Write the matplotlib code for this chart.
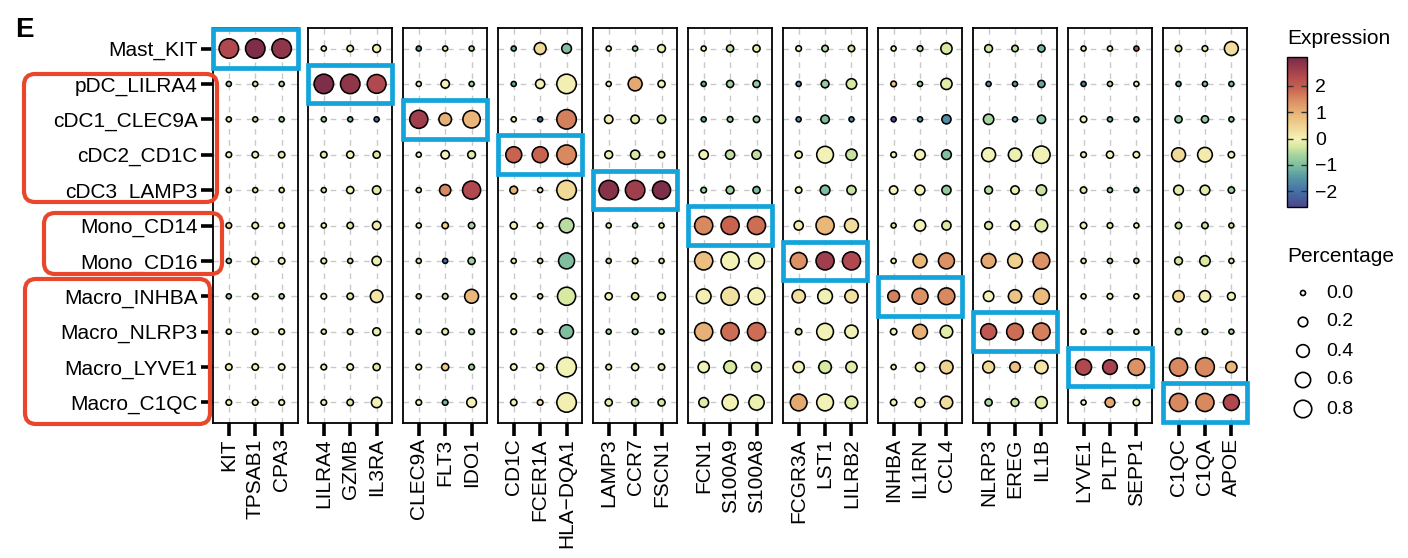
import numpy as np
import matplotlib
matplotlib.use("Agg")
import matplotlib.pyplot as plt
from matplotlib.colors import LinearSegmentedColormap, Normalize
from matplotlib.patches import Rectangle, FancyBboxPatch
import matplotlib.cm as cm

plt.rcParams['font.family'] = ['Liberation Sans', 'DejaVu Sans']

cell_types = ["Mast_KIT", "pDC_LILRA4", "cDC1_CLEC9A", "cDC2_CD1C", "cDC3_LAMP3",
              "Mono_CD14", "Mono_CD16", "Macro_INHBA", "Macro_NLRP3", "Macro_LYVE1", "Macro_C1QC"]

gene_groups = [
    ["KIT", "TPSAB1", "CPA3"],
    ["LILRA4", "GZMB", "IL3RA"],
    ["CLEC9A", "FLT3", "IDO1"],
    ["CD1C", "FCER1A", "HLA\u2212DQA1"],
    ["LAMP3", "CCR7", "FSCN1"],
    ["FCN1", "S100A9", "S100A8"],
    ["FCGR3A", "LST1", "LILRB2"],
    ["INHBA", "IL1RN", "CCL4"],
    ["NLRP3", "EREG", "IL1B"],
    ["LYVE1", "PLTP", "SEPP1"],
    ["C1QC", "C1QA", "APOE"],
]

# expression per row (cell type), 33 genes in panel order
expression = [
    [2.4, 3.0, 2.8, -0.1, -0.1, 0.0, -1.4, -0.2, -0.5, -1.3, 0.4, -1.0, -0.1, -0.7, -0.1, 0.0, -0.45, -0.2,
     0.0, -0.5, -0.35, -0.1, -0.45, -0.3, -0.35, -0.45, -1.1, -0.3, 0.0, 2.2, -0.3, -0.2, 0.3],
    [-0.6, -0.3, -0.5, 3.0, 2.8, 2.4, -0.1, 0.0, -0.6, -1.3, 0.0, 0.05, -0.1, 1.1, 0.0, -1.3, -0.7, -0.8,
     -1.6, -0.8, -0.3, 0.7, -0.7, -0.2, -1.6, -1.4, -1.3, -1.8, -0.5, -0.1, -1.4, -1.0, -1.0],
    [-0.2, -0.5, -0.6, -0.7, -1.0, -2.0, 2.6, 1.0, 0.9, -0.1, -2.0, 1.6, 0.05, -0.2, -0.35, -1.3, -0.7, -0.7,
     -1.6, -1.0, -1.6, -2.5, -1.4, -1.6, -0.6, -1.4, -1.0, 0.0, -1.0, -1.0, -0.8, -0.8, -0.7],
    [0.0, -0.1, -0.2, -0.2, 0.0, -0.3, 0.0, 0.0, -0.2, 1.9, 1.9, 1.5, -0.1, -0.3, -0.3, 0.0, -0.45, -0.45,
     -0.1, 0.0, -0.4, 0.0, 0.0, -1.0, 0.0, -0.1, 0.0, -0.2, 0.0, 0.0, 0.4, 0.1, 0.0],
    [-0.1, -0.2, -0.2, -0.3, 0.0, -0.2, 0.0, 1.5, 2.4, 1.0, -0.1, 0.4, 2.9, 2.6, 3.0, -0.7, -0.7, -1.0,
     0.0, -1.0, -0.4, 0.0, 0.0, -0.8, -0.5, -0.1, -0.4, -0.3, -0.7, -1.0, -0.2, -0.2, -0.7],
    [0.3, -0.1, -0.1, 0.0, -0.3, 0.1, 0.0, 0.5, -0.6, 0.0, 0.0, -0.5, -0.3, -0.7, -0.3, 1.5, 1.9, 1.8,
     0.1, 0.9, 0.3, -0.35, 0.0, -0.3, -0.3, 0.0, -0.2, 0.0, -0.2, -0.1, -0.4, -0.4, -0.4],
    [-0.7, 0.0, -0.1, -0.2, -0.3, -0.1, -0.3, -2.0, -0.7, -0.1, -0.3, -1.0, -0.45, -0.3, -0.35, 0.8, 0.0, 0.0,
     1.4, 2.6, 2.4, 0.0, 0.9, 1.4, 1.1, 0.5, 1.4, -0.2, -0.5, -0.45, -0.35, -0.3, -0.2],
    [-0.7, -0.1, -0.6, -0.1, -0.3, 0.2, -0.5, -0.4, 0.9, -0.05, -0.35, -0.3, 0.0, -0.3, -0.2, 0.05, 0.25, 0.0,
     0.3, -0.05, 0.25, 1.6, 1.4, 1.5, 0.0, 0.7, 0.85, 0.2, -0.05, 0.0, 0.4, 0.05, 0.0],
    [0.0, -0.1, -0.1, -0.3, -0.2, -0.1, -0.5, -0.2, -0.6, -0.05, -0.2, -1.0, -0.7, -0.5, -0.45, 1.0, 1.8, 1.8,
     -0.35, 0.0, 0.0, 0.0, 1.0, -0.2, 2.1, 1.8, 1.6, -0.35, -0.45, -0.4, -0.5, -0.5, -0.6],
    [0.1, 0.05, -0.1, -0.1, 0.0, -0.2, 0.0, 0.6, -0.6, 0.0, 0.0, 0.0, -0.2, 0.0, -0.3, 0.0, -0.3, -0.3,
     0.0, -0.3, -0.2, 0.0, 0.0, 0.5, 0.4, 0.8, 0.2, 2.4, 2.5, 1.4, 1.5, 1.5, 0.9],
    [0.05, -0.1, 0.0, -0.1, -0.3, 0.0, 0.0, -1.1, 0.0, 0.0, 0.3, 0.05, -0.2, -0.45, -0.35, -0.2, 0.0, -0.1,
     1.1, 0.0, -0.2, 0.0, 0.0, 0.3, -0.6, -0.4, -0.2, 0.0, 1.1, 0.0, 1.5, 1.5, 2.4],
]

percentage = [
    [1.0, 1.0, 1.0, 0.0, 0.05, 0.11, 0.0, 0.0, 0.0, 0.0, 0.34, 0.21, 0.0, 0.0, 0.11, 0.0, 0.08, 0.08,
     0.02, 0.05, 0.05, 0.0, 0.02, 0.30, 0.11, 0.05, 0.08, 0.0, 0.0, 0.0, 0.05, 0.02, 0.49],
    [0.0, 0.0, 0.0, 1.0, 1.0, 0.93, 0.0, 0.14, 0.0, 0.0, 0.18, 1.0, 0.0, 0.49, 0.08, 0.0, 0.08, 0.08,
     0.0, 0.11, 0.25, 0.02, 0.0, 0.30, 0.0, 0.0, 0.08, 0.0, 0.0, 0.0, 0.0, 0.0, 0.0],
    [0.0, 0.0, 0.0, 0.0, 0.0, 0.0, 0.86, 0.39, 0.79, 0.0, 0.0, 1.0, 0.14, 0.14, 0.14, 0.0, 0.02, 0.05,
     0.0, 0.14, 0.0, 0.0, 0.0, 0.18, 0.25, 0.0, 0.14, 0.05, 0.0, 0.0, 0.08, 0.08, 0.0],
    [0.02, 0.05, 0.05, 0.05, 0.08, 0.08, 0.0, 0.14, 0.11, 0.66, 0.66, 1.0, 0.11, 0.18, 0.05, 0.18, 0.18, 0.18,
     0.08, 0.73, 0.30, 0.02, 0.25, 0.21, 0.49, 0.44, 0.79, 0.02, 0.08, 0.05, 0.49, 0.55, 0.05],
    [0.0, 0.0, 0.0, 0.0, 0.08, 0.14, 0.0, 0.30, 0.86, 0.11, 0.0, 1.0, 1.0, 1.0, 0.86, 0.02, 0.11, 0.08,
     0.05, 0.21, 0.18, 0.14, 0.21, 0.18, 0.11, 0.14, 0.25, 0.05, 0.0, 0.0, 0.21, 0.21, 0.05],
    [0.02, 0.05, 0.02, 0.0, 0.05, 0.14, 0.0, 0.05, 0.05, 0.08, 0.02, 0.55, 0.0, 0.0, 0.0, 0.86, 0.86, 0.86,
     0.18, 0.86, 0.49, 0.0, 0.30, 0.18, 0.11, 0.18, 0.39, 0.05, 0.02, 0.0, 0.05, 0.05, 0.0],
    [0.0, 0.08, 0.05, 0.02, 0.0, 0.18, 0.0, 0.0, 0.08, 0.0, 0.0, 0.66, 0.0, 0.02, 0.0, 0.86, 0.86, 0.66,
     0.73, 0.86, 0.86, 0.0, 0.49, 0.66, 0.55, 0.55, 0.73, 0.0, 0.0, 0.0, 0.11, 0.25, 0.0],
    [0.0, 0.02, 0.0, 0.02, 0.05, 0.39, 0.0, 0.02, 0.49, 0.02, 0.0, 0.86, 0.08, 0.08, 0.11, 0.55, 0.86, 0.73,
     0.44, 0.55, 0.44, 0.34, 0.66, 0.73, 0.25, 0.44, 0.66, 0.0, 0.02, 0.0, 0.30, 0.30, 0.11],
    [0.0, 0.02, 0.02, 0.0, 0.02, 0.11, 0.0, 0.05, 0.02, 0.02, 0.0, 0.49, 0.0, 0.02, 0.0, 0.86, 0.86, 0.86,
     0.05, 0.73, 0.44, 0.05, 0.55, 0.39, 0.66, 0.73, 0.79, 0.0, 0.0, 0.0, 0.05, 0.02, 0.0],
    [0.05, 0.05, 0.05, 0.02, 0.05, 0.08, 0.02, 0.08, 0.02, 0.05, 0.08, 1.0, 0.02, 0.08, 0.05, 0.30, 0.39, 0.21,
     0.30, 0.39, 0.30, 0.0, 0.18, 0.44, 0.34, 0.25, 0.44, 0.66, 0.55, 0.73, 0.86, 0.93, 0.30],
    [0.02, 0.02, 0.02, 0.02, 0.05, 0.25, 0.02, 0.02, 0.21, 0.05, 0.02, 1.0, 0.08, 0.08, 0.08, 0.21, 0.66, 0.60,
     0.73, 0.73, 0.39, 0.05, 0.21, 0.39, 0.08, 0.11, 0.34, 0.0, 0.21, 0.05, 0.86, 0.86, 0.66],
]

legend_pcts = [0.0, 0.2, 0.4, 0.6, 0.8]
cbar_ticks = [-2, -1, 0, 1, 2]
vmin, vmax = -2.6, 3.1

# colormap (muted Spectral-like)
nodes = [(-2.6, "#4b4789"), (-2.0, "#4471a8"), (-1.4, "#5a9ea2"), (-1.0, "#80c0a0"),
         (-0.6, "#a8d5a0"), (-0.3, "#d8e9a2"), (0.0, "#f4f2b6"), (0.4, "#f0d896"),
         (0.9, "#eab87a"), (1.5, "#d98a60"), (1.9, "#c96450"), (2.4, "#b0484f"), (3.1, "#772a47")]
cmap = LinearSegmentedColormap.from_list(
    "expr", [((v - vmin) / (vmax - vmin), c) for v, c in nodes])
norm = Normalize(vmin=vmin, vmax=vmax)

EDGE_LW = 1.15


def size_of(p):
    d_px = np.sqrt(44 + 400 * np.asarray(p))
    return (d_px * 0.72 - EDGE_LW) ** 2


W, H = 1408, 558
fig = plt.figure(figsize=(W / 100, H / 100), dpi=100)

expr = np.array(expression)
pct = np.array(percentage)
n_rows = len(cell_types)

panel_left0, pitch, pw = 213, 94.97, 84.5
top_px, bot_px = 28, 423
blue = "#12a4da"

for i, genes in enumerate(gene_groups):
    left = panel_left0 + i * pitch
    ax = fig.add_axes([left / W, 1 - bot_px / H, pw / W, (bot_px - top_px) / H])
    ax.set_xlim(-0.6, 2.6)
    ax.set_ylim(n_rows - 1 + 0.58, -0.58)
    ax.set_xticks(range(3))
    ax.set_xticklabels(genes, rotation=90, fontsize=15)
    ax.set_yticks(range(n_rows))
    ax.set_axisbelow(True)
    ax.grid(True, color="#c9c9c9", linestyle=(0, (4, 4)), linewidth=1.0)
    for s in ax.spines.values():
        s.set_linewidth(1.3)
        s.set_color("black")
    ax.tick_params(axis="x", length=9, width=2.6, pad=2, color="black")
    if i == 0:
        ax.set_yticklabels(cell_types, fontsize=15)
        ax.tick_params(axis="y", length=9, width=2.6, pad=2, color="black")
    else:
        ax.set_yticklabels([])
        ax.tick_params(axis="y", length=0)
    cols = slice(3 * i, 3 * i + 3)
    xx, yy = np.meshgrid(np.arange(3), np.arange(n_rows))
    ax.scatter(xx.ravel(), yy.ravel(), s=size_of(pct[:, cols].ravel()),
               c=expr[:, cols].ravel(), cmap=cmap, norm=norm,
               edgecolors="black", linewidths=EDGE_LW, zorder=3, clip_on=False)
    # highlight box for the matching cell type (diagonal)
    rect = Rectangle((0.0, i - 0.545), 1.0, 1.09, transform=ax.get_yaxis_transform(),
                     fill=False, edgecolor=blue, linewidth=3.4, clip_on=False, zorder=5)
    ax.add_patch(rect)

# overlay axes in pixel coordinates for annotations
ov = fig.add_axes([0, 0, 1, 1], facecolor="none")
ov.set_xlim(0, W)
ov.set_ylim(H, 0)
ov.axis("off")
red = "#e8472c"
for (x0, y0, x1, y1) in [(24, 74, 217, 202), (44, 213, 222, 274), (25, 279, 210, 424)]:
    ov.add_patch(FancyBboxPatch((x0, y0), x1 - x0, y1 - y0,
                                boxstyle="round,pad=0,rounding_size=11",
                                fill=False, edgecolor=red, linewidth=3.0))

ov.text(15, 30, "E", fontsize=20, fontweight="bold", va="center", ha="left")

# colorbar
cax = fig.add_axes([1287 / W, 1 - 207 / H, 20 / W, 150 / H])
cb = fig.colorbar(cm.ScalarMappable(norm=norm, cmap=cmap), cax=cax, ticks=cbar_ticks)
cb.outline.set_linewidth(1.0)
cax.tick_params(length=4, width=1.0, color="#333333", direction="in", labelsize=14, pad=6,
                left=True, right=True)
cax.set_yticklabels(["\u22122", "\u22121", "0", "1", "2"])
ov.text(1287, 38, "Expression", fontsize=15, va="center", ha="left")

# size legend
ov.text(1287, 257, "Percentage", fontsize=15, va="center", ha="left")
leg_y = [293, 322, 351, 380, 409]
ov.scatter([1303] * len(legend_pcts), leg_y, s=size_of(legend_pcts), facecolors="white",
           edgecolors="black", linewidths=1.2, zorder=3)
for p, y in zip(legend_pcts, leg_y):
    ov.text(1326, y, f"{p:.1f}", fontsize=14, va="center", ha="left")

fig.savefig("out.png", dpi=100)
